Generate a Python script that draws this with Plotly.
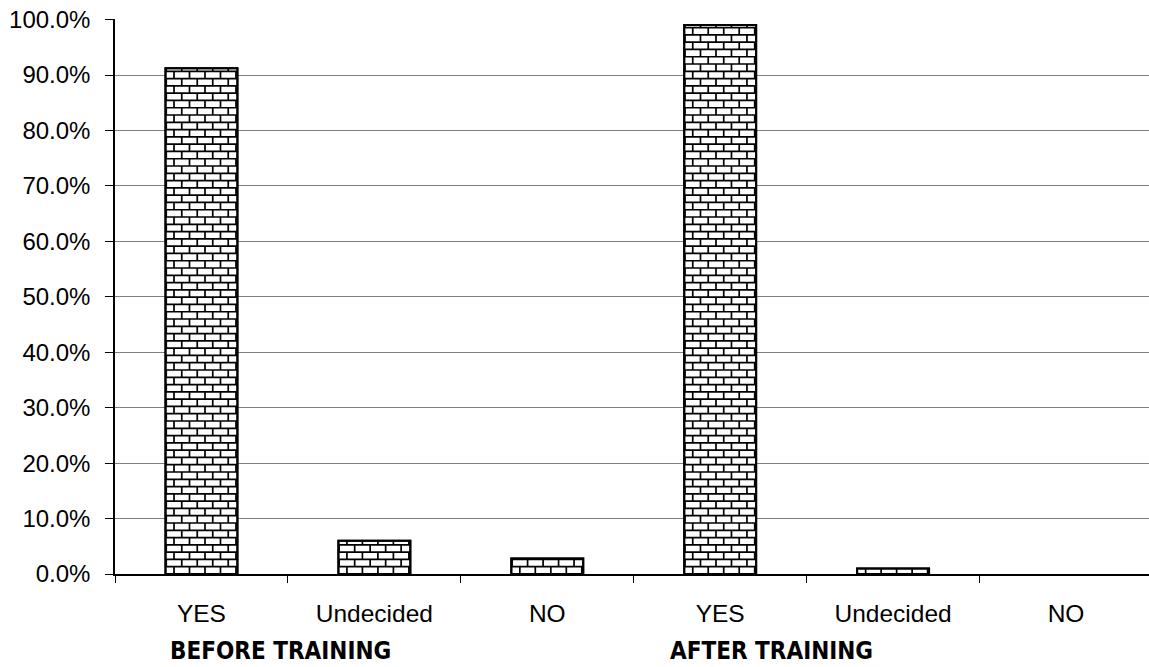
import plotly.graph_objects as go

# Survey responses (share of respondents), before and after training
categories = ["YES", "Undecided", "NO", "YES", "Undecided", "NO"]
values = [0.912, 0.060, 0.028, 0.990, 0.010, 0.000]
group_labels = ["BEFORE TRAINING", "AFTER TRAINING"]
y_ticks = [i / 10 for i in range(11)]

BAR_W = 0.416        # bar width in category units
BRICK_W = 0.0896     # brick length in category units
BRICK_H = 0.01314    # brick course height in y units

xs = list(range(len(categories)))
# no outline for empty bars
outline_w = [2 if v > 0 else 0 for v in values]

fig = go.Figure()

# Bars: white fill with dark outline
fig.add_trace(go.Bar(
    x=xs, y=values, width=BAR_W,
    marker=dict(color="white", line=dict(color="black", width=outline_w)),
    hoverinfo="skip", showlegend=False,
))

# Brick texture: mortar lines laid inside each bar from its value
mx, my = [], []
for i, v in enumerate(values):
    if v <= 0:
        continue
    x0, x1 = i - BAR_W / 2, i + BAR_W / 2
    k = 0
    while k * BRICK_H < v:
        yb = k * BRICK_H
        yt = min((k + 1) * BRICK_H, v)
        if k > 0:
            mx += [x0, x1, None]
            my += [yb, yb, None]
        off = BRICK_W * 0.55 + (BRICK_W / 2 if k % 2 else 0)
        xv = x0 + off
        while xv > x0 + BRICK_W:
            xv -= BRICK_W
        while xv < x1 - 0.004:
            if xv > x0 + 0.004:
                mx += [xv, xv, None]
                my += [yb, yt, None]
            xv += BRICK_W
        k += 1

fig.add_trace(go.Scatter(
    x=mx, y=my, mode="lines", xaxis="x2", yaxis="y",
    line=dict(color="black", width=1.7),
    hoverinfo="skip", showlegend=False,
))

# Bar outlines redrawn on top of the texture
fig.add_trace(go.Bar(
    x=xs, y=values, width=BAR_W,
    marker=dict(color="rgba(0,0,0,0)", line=dict(color="black", width=outline_w)),
    hoverinfo="skip", showlegend=False,
))

tick_font = dict(family="Liberation Sans, Arial, sans-serif", size=24, color="black")
group_font = dict(family="DejaVu Sans Condensed, Liberation Sans Narrow, Arial Narrow, sans-serif",
                  size=24, color="black")

fig.update_layout(
    width=1149, height=667,
    margin=dict(l=115, r=0, t=19, b=92.6),
    paper_bgcolor="white", plot_bgcolor="white",
    barmode="overlay",
    xaxis=dict(
        range=[-0.5, 5.48], tickvals=xs, ticktext=categories,
        ticks="", showgrid=False, zeroline=False,
        showline=True, linecolor="black", linewidth=1.5,
        tickfont=dict(tick_font, size=24.5), ticklabelstandoff=17,
    ),
    xaxis2=dict(
        overlaying="x", matches="x", anchor="y", side="bottom",
        tickvals=[i - 0.5 for i in range(len(categories))],
        ticks="outside", ticklen=8, tickwidth=1.2, tickcolor="black",
        showticklabels=False, showgrid=False, zeroline=False,
    ),
    yaxis=dict(
        range=[0, 1.001], tickvals=y_ticks, tickformat=".1%",
        ticks="outside", ticklen=8, tickwidth=1.2, tickcolor="black",
        showline=True, linecolor="black", linewidth=1.5,
        showgrid=True, gridcolor="#808080", gridwidth=1,
        zeroline=False, tickfont=tick_font, ticklabelstandoff=10,
    ),
    annotations=[
        dict(text=f"<b>{group_labels[0]}</b>", xref="paper", yref="paper",
             x=0.1605, y=-0.1386, xanchor="center", yanchor="middle", showarrow=False,
             font=group_font),
        dict(text=f"<b>{group_labels[1]}</b>", xref="paper", yref="paper",
             x=0.635, y=-0.1386, xanchor="center", yanchor="middle", showarrow=False,
             font=group_font),
    ],
)

fig.write_html("out.html")
